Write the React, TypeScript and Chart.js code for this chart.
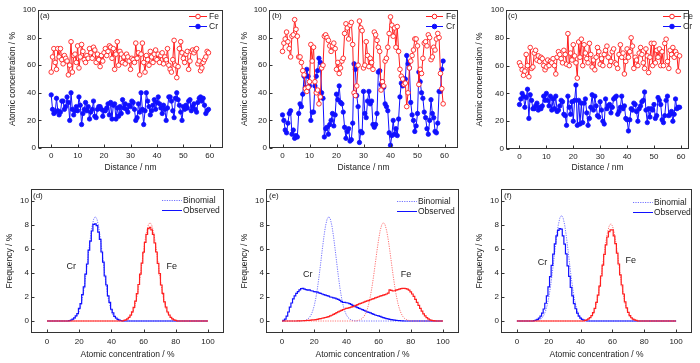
import React, { useEffect, useRef } from 'react';
import { Chart, registerables } from 'chart.js';
Chart.register(...registerables);

const FONT = '"Liberation Sans", Arial, sans-serif';
Chart.defaults.font.family = FONT;

// ---------- top row: line profiles ----------
const distance = [
  0, 0.5, 1, 1.5, 2, 2.5, 3, 3.5, 4, 4.5, 5, 5.5, 6, 6.5, 7, 7.5, 8, 8.5, 9, 9.5,
  10, 10.5, 11, 11.5, 12, 12.5, 13, 13.5, 14, 14.5, 15, 15.5, 16, 16.5, 17, 17.5, 18, 18.5, 19, 19.5,
  20, 20.5, 21, 21.5, 22, 22.5, 23, 23.5, 24, 24.5, 25, 25.5, 26, 26.5, 27, 27.5, 28, 28.5, 29, 29.5,
  30, 30.5, 31, 31.5, 32, 32.5, 33, 33.5, 34, 34.5, 35, 35.5, 36, 36.5, 37, 37.5, 38, 38.5, 39, 39.5,
  40, 40.5, 41, 41.5, 42, 42.5, 43, 43.5, 44, 44.5, 45, 45.5, 46, 46.5, 47, 47.5, 48, 48.5, 49, 49.5,
  50, 50.5, 51, 51.5, 52, 52.5, 53, 53.5, 54, 54.5, 55, 55.5, 56, 56.5, 57, 57.5, 58, 58.5, 59, 59.5,
];

const aFe = [
  55, 66, 72, 62, 57, 72, 66, 72, 64, 61, 67, 65, 63, 53, 60, 77, 55, 67, 68, 62,
  74, 58, 66, 75, 70, 64, 62, 67, 65, 72, 69, 65, 73, 71, 62, 68, 64, 59, 67, 63,
  69, 72, 67, 70, 74, 73, 65, 72, 57, 68, 77, 60, 70, 68, 62, 66, 61, 68, 66, 63,
  57, 65, 64, 62, 76, 65, 69, 53, 68, 76, 62, 55, 67, 64, 60, 70, 66, 62, 68, 71,
  64, 68, 62, 67, 69, 61, 66, 64, 72, 60, 57, 55, 64, 78, 60, 51, 59, 72, 77, 69,
  65, 62, 68, 70, 57, 63, 70, 71, 69, 71, 72, 61, 63, 56, 58, 62, 64, 66, 70, 69,
];
const aCr = [
  38.5, 28, 25, 26, 36, 27, 24, 26, 34, 34, 28, 30, 37, 33, 20, 40, 28, 24, 27, 30,
  27, 37, 31, 17, 25, 28, 33, 27, 30, 21, 26, 28, 34, 23, 22, 28, 30, 30, 28, 23,
  27, 27, 29, 32, 24, 33, 21, 31, 32, 21, 29, 23, 30, 25, 35, 29, 32, 28, 26, 31,
  30, 34, 33, 28, 20, 22, 32, 26, 40, 28, 17, 27, 40, 34, 30, 24, 27, 31, 35, 28,
  33, 37, 32, 29, 25, 31, 28, 20, 29, 37, 37, 34, 27, 22, 36, 40, 35, 31, 26, 20,
  30, 28, 31, 29, 34, 35, 27, 30, 32, 28, 26, 33, 36, 37, 34, 36, 31, 25, 27, 28,
];

const bFe = [
  70, 76, 79, 84, 77, 72, 66, 81, 82, 93, 86, 81, 66, 66, 62, 56, 53, 43, 41, 44,
  48, 75, 63, 73, 48, 40, 42, 32, 37, 58, 60, 81, 82, 80, 78, 74, 70, 74, 76, 72,
  57, 62, 54, 58, 63, 65, 83, 90, 87, 79, 89, 91, 75, 40, 38, 45, 60, 92, 87, 85,
  58, 60, 77, 67, 59, 65, 62, 57, 84, 82, 78, 73, 70, 42, 48, 45, 63, 65, 73, 83,
  95, 89, 81, 87, 73, 88, 70, 57, 52, 50, 46, 47, 30, 40, 58, 63, 67, 71, 79, 79,
  74, 46, 57, 54, 65, 76, 77, 74, 82, 80, 64, 66, 73, 71, 79, 83, 80, 54, 43, 32,
];
const bCr = [
  24, 20, 13, 11, 18, 25, 27, 10, 13, 7, 9, 8, 25, 32, 30, 39, 52, 44, 57, 52,
  45, 20, 26, 26, 45, 52, 56, 65, 62, 40, 36, 8, 14, 15, 10, 17, 20, 25, 16, 24,
  39, 35, 45, 33, 32, 26, 15, 7, 12, 14, 5, 6, 18, 61, 57, 38, 30, 4, 12, 11,
  41, 25, 22, 34, 41, 32, 34, 17, 15, 17, 25, 55, 56, 46, 48, 44, 32, 30, 27, 11,
  2, 9, 20, 10, 14, 9, 21, 37, 47, 45, 50, 50, 67, 61, 58, 33, 24, 20, 12, 16,
  25, 55, 48, 40, 36, 26, 22, 14, 10, 20, 35, 25, 22, 12, 11, 18, 41, 41, 57, 63,
];

const cFe = [
  62, 60, 57, 53, 56, 68, 60, 52, 73, 58, 59, 69, 71, 64, 67, 63, 66, 65, 60, 57,
  59, 64, 60, 63, 62, 65, 60, 54, 66, 70, 68, 65, 62, 71, 68, 61, 83, 60, 69, 64,
  75, 67, 62, 51, 77, 66, 79, 60, 75, 69, 65, 62, 76, 68, 59, 64, 57, 66, 73, 70,
  61, 65, 60, 68, 71, 74, 66, 60, 63, 70, 72, 62, 61, 58, 68, 75, 66, 69, 54, 63,
  72, 66, 70, 80, 74, 58, 66, 64, 60, 69, 73, 68, 62, 58, 72, 67, 55, 66, 76, 60,
  76, 62, 71, 66, 72, 60, 70, 60, 76, 79, 63, 58, 71, 68, 73, 66, 70, 68, 56, 67,
];
const cCr = [
  32, 36, 40, 38, 30, 37, 43, 22, 39, 35, 29, 29, 31, 33, 28, 30, 29, 31, 38, 35,
  40, 35, 31, 38, 28, 36, 29, 38, 27, 28, 31, 35, 34, 25, 24, 17, 38, 30, 25, 34,
  20, 35, 46, 17, 35, 18, 33, 19, 33, 36, 26, 17, 22, 30, 39, 28, 38, 31, 24, 23,
  34, 28, 20, 18, 36, 29, 31, 32, 26, 30, 36, 37, 38, 25, 27, 30, 38, 29, 31, 22,
  21, 13, 21, 29, 28, 33, 32, 27, 20, 29, 31, 34, 35, 41, 28, 19, 29, 23, 29, 28,
  32, 22, 24, 37, 35, 32, 21, 19, 24, 35, 38, 24, 25, 27, 20, 25, 36, 29, 30, 30,
];

const concentrationTicks = [0, 20, 40, 60, 80, 100];
const distanceTicks = [0, 10, 20, 30, 40, 50, 60];

// ---------- bottom row: frequency distributions (1 % bins) ----------
const binFirst = 0;
const binLast = 100;
const frequencyTicks = [0, 2, 4, 6, 8, 10];
const binTicks = [0, 20, 40, 60, 80, 100];

const dCrBinStart = 14;
const dCrBin = [0.02, 0.04, 0.09, 0.16, 0.29, 0.5, 0.82, 1.28, 1.92, 2.73, 3.72, 4.82, 5.96, 7.03, 7.92, 8.5, 8.7, 8.5, 7.92, 7.03, 5.96, 4.82, 3.72, 2.73, 1.92, 1.28, 0.82, 0.5, 0.29, 0.16, 0.09, 0.04, 0.02];
const dCrObsStart = 14;
const dCrObs = [0.03, 0.07, 0.15, 0.26, 0.42, 0.62, 1.05, 1.45, 2.2, 2.85, 3.9, 4.75, 5.9, 6.65, 7.5, 8.05, 8.1, 7.95, 7.4, 6.8, 5.75, 4.9, 3.75, 3.0, 2.1, 1.55, 0.98, 0.68, 0.38, 0.25, 0.13, 0.08, 0.04];
const dFeBinStart = 48;
const dFeBin = [0.04, 0.07, 0.13, 0.23, 0.39, 0.64, 0.99, 1.48, 2.13, 2.92, 3.84, 4.84, 5.85, 6.78, 7.54, 8.03, 8.2, 8.03, 7.54, 6.78, 5.85, 4.84, 3.84, 2.92, 2.13, 1.48, 0.99, 0.64, 0.39, 0.23, 0.13, 0.07, 0.04];
const dFeObsStart = 48;
const dFeObs = [0.06, 0.1, 0.18, 0.3, 0.49, 0.76, 1.14, 1.65, 2.28, 3.04, 3.9, 4.82, 5.73, 6.56, 7.22, 7.7, 7.8, 7.6, 7.22, 6.5, 5.75, 4.8, 3.95, 3.0, 2.3, 1.6, 1.15, 0.75, 0.5, 0.3, 0.17, 0.1, 0.05];

const eCrBinStart = 13;
const eCrBin = [0.02, 0.04, 0.09, 0.16, 0.29, 0.5, 0.82, 1.28, 1.92, 2.73, 3.72, 4.82, 5.96, 7.03, 7.92, 8.5, 8.7, 8.5, 7.92, 7.03, 5.96, 4.82, 3.72, 2.73, 1.92, 1.28, 0.82, 0.5, 0.29, 0.16, 0.09, 0.04, 0.02];
const eCrObsStart = 0;
const eCrObs = [
  0, 0.05, 0.15, 0.4, 0.75, 1.15, 1.5, 1.85, 2.1, 2.3,
  2.45, 2.6, 2.7, 2.72, 2.65, 2.62, 2.58, 2.6, 2.52, 2.5,
  2.45, 2.42, 2.4, 2.35, 2.3, 2.25, 2.2, 2.15, 2.12, 2.08,
  2.0, 1.98, 1.92, 1.9, 1.85, 1.8, 1.72, 1.62, 1.55, 1.55,
  1.52, 1.5, 1.45, 1.38, 1.3, 1.25, 1.18, 1.12, 1.05, 1.0,
  0.95, 0.88, 0.82, 0.76, 0.72, 0.68, 0.62, 0.56, 0.5, 0.46,
  0.42, 0.38, 0.33, 0.28, 0.24, 0.2, 0.17, 0.14, 0.11, 0.09,
  0.07, 0.05, 0.04, 0.03, 0.02, 0.01,
];
const eFeBinStart = 47;
const eFeBin = [0.04, 0.07, 0.13, 0.23, 0.39, 0.64, 0.99, 1.48, 2.13, 2.92, 3.84, 4.84, 5.85, 6.78, 7.54, 8.03, 8.2, 8.03, 7.54, 6.78, 5.85, 4.84, 3.84, 2.92, 2.13, 1.48, 0.99, 0.64, 0.39, 0.23, 0.13, 0.07, 0.04];
const eFeObsStart = 10;
const eFeObs = [
  0.01, 0.01, 0.02, 0.02, 0.03, 0.04, 0.05, 0.06, 0.08, 0.09,
  0.1, 0.12, 0.14, 0.17, 0.2, 0.23, 0.26, 0.29, 0.33, 0.37,
  0.42, 0.48, 0.55, 0.62, 0.7, 0.76, 0.82, 0.88, 0.94, 1.0,
  1.05, 1.08, 1.12, 1.15, 1.2, 1.25, 1.3, 1.36, 1.42, 1.47,
  1.52, 1.58, 1.63, 1.68, 1.72, 1.77, 1.82, 1.87, 1.92, 1.97,
  2.02, 2.07, 2.12, 2.16, 2.2, 2.25, 2.32, 2.6, 2.55, 2.5,
  2.52, 2.58, 2.62, 2.66, 2.7, 2.72, 2.72, 2.7, 2.66, 2.58,
  2.42, 2.25, 2.05, 1.8, 1.55, 1.3, 1.05, 0.82, 0.6, 0.42,
  0.28, 0.17, 0.1, 0.05, 0.03, 0.01, 0,
];

const fCrBinStart = 12;
const fCrBin = [0.02, 0.04, 0.09, 0.16, 0.29, 0.5, 0.83, 1.3, 1.94, 2.76, 3.76, 4.87, 6.03, 7.11, 8.01, 8.6, 8.8, 8.6, 8.01, 7.11, 6.03, 4.87, 3.76, 2.76, 1.94, 1.3, 0.83, 0.5, 0.29, 0.16, 0.09, 0.04, 0.02];
const fCrObsStart = 11;
const fCrObs = [0.04, 0.07, 0.14, 0.24, 0.4, 0.65, 1.0, 1.48, 2.1, 2.84, 3.7, 4.63, 5.57, 6.42, 7.1, 7.55, 7.7, 7.65, 7.1, 6.4, 5.6, 4.6, 3.72, 2.8, 2.1, 1.45, 1.02, 0.66, 0.4, 0.24, 0.14, 0.07, 0.04];
const fFeBinStart = 43;
const fFeBin = [0.04, 0.07, 0.13, 0.23, 0.39, 0.63, 0.98, 1.46, 2.1, 2.88, 3.8, 4.78, 5.78, 6.7, 7.45, 7.93, 8.1, 7.93, 7.45, 6.7, 5.78, 4.78, 3.8, 2.88, 2.1, 1.46, 0.98, 0.63, 0.39, 0.23, 0.13, 0.07, 0.04];
const fFeObsStart = 43;
const fFeObs = [0.06, 0.1, 0.17, 0.28, 0.45, 0.7, 1.06, 1.55, 2.15, 2.9, 3.75, 4.65, 5.55, 6.35, 7.0, 7.45, 7.6, 7.6, 7.1, 6.45, 5.65, 4.75, 3.85, 3.0, 2.25, 1.6, 1.1, 0.72, 0.45, 0.27, 0.16, 0.09, 0.05];

// ---------- helpers ----------
const RED = '#ff1f1f';
const BLUE = '#1010ff';
const RED_LIGHT = 'rgba(255,90,90,0.85)';
const BLUE_LIGHT = 'rgba(90,90,255,0.85)';
const TEXT = '#222';

function toBins(start: number, vals: number[]) {
  const out: { x: number; y: number }[] = [];
  for (let x = binFirst; x <= binLast; x++) {
    const i = x - start;
    out.push({ x, y: i >= 0 && i < vals.length ? vals[i] : 0 });
  }
  return out;
}
function toProfile(vals: number[]) {
  return distance.map((x, i) => ({ x, y: vals[i] }));
}

type Box = { x: number; y: number; w: number; h: number; yw: number; xh: number; pt: number; pr: number; ytp: number; xtb: number; xtp: number };

type LegendItem = { text: string; color: string; dash: number[]; marker: '' | 'open' | 'filled' };
type Decor = {
  label: string; labelDx: number; labelDy: number;
  legend: LegendItem[]; legX1: number; legX2: number; legText: number; legY: number[];
  notes: { text: string; x: number; y: number }[];
};

const decorPlugin = {
  id: 'decor',
  afterDraw(chart: any, _args: any, o: Decor) {
    const { ctx, chartArea: a, scales } = chart;
    const xs = scales.x, ys = scales.y;
    ctx.save();
    ctx.strokeStyle = '#333';
    ctx.lineWidth = 1;
    const L = Math.round(a.left) + 0.5, T = Math.round(a.top) + 0.5;
    const R = Math.round(a.right) - 0.5, B = Math.round(a.bottom) - 0.5;
    ctx.strokeRect(L, T, R - L, B - T);
    ctx.beginPath();
    for (const t of xs.ticks) {
      const px = Math.round(xs.getPixelForValue(t.value)) + 0.5;
      ctx.moveTo(px, B); ctx.lineTo(px, B - 3);
    }
    for (const t of ys.ticks) {
      const py = Math.round(ys.getPixelForValue(t.value)) + 0.5;
      ctx.moveTo(L, py); ctx.lineTo(L + 3, py);
    }
    ctx.stroke();

    ctx.fillStyle = TEXT;
    ctx.textBaseline = 'middle';
    ctx.textAlign = 'left';
    ctx.font = `8px ${FONT}`;
    ctx.fillText(o.label, a.left + o.labelDx, a.top + o.labelDy);

    o.legend.forEach((it, i) => {
      const y = Math.round(a.top + o.legY[i]) + 0.5;
      const x1 = a.right + o.legX1, x2 = a.right + o.legX2;
      ctx.strokeStyle = it.color;
      ctx.lineWidth = 1;
      ctx.setLineDash(it.dash);
      ctx.beginPath(); ctx.moveTo(x1, y); ctx.lineTo(x2, y); ctx.stroke();
      ctx.setLineDash([]);
      if (it.marker) {
        ctx.beginPath();
        ctx.arc((x1 + x2) / 2, y, 2.3, 0, Math.PI * 2);
        ctx.fillStyle = it.marker === 'open' ? '#fff' : it.color;
        ctx.fill(); ctx.stroke();
      }
      ctx.fillStyle = TEXT;
      ctx.font = `8.5px ${FONT}`;
      ctx.fillText(it.text, a.right + o.legText, y);
    });

    ctx.textAlign = 'center';
    ctx.font = `9px ${FONT}`;
    for (const n of o.notes) ctx.fillText(n.text, xs.getPixelForValue(n.x), ys.getPixelForValue(n.y));
    ctx.restore();
  },
};

function axis(min: number, max: number, ticks: number[], title: string, horizontal: boolean, box: Box) {
  return {
    type: 'linear', min, max,
    afterBuildTicks: (s: any) => { s.ticks = ticks.map((v) => ({ value: v })); },
    afterFit: (s: any) => { if (horizontal) s.height = box.xh; else s.width = box.yw; },
    grid: { display: false, drawTicks: false },
    border: { display: false },
    ticks: { font: { size: 8, family: FONT }, color: TEXT, padding: horizontal ? box.xtp : 2, maxRotation: 0, autoSkip: false },
    title: {
      display: true, text: title, color: TEXT, font: { size: 8.5, family: FONT },
      padding: horizontal ? { top: 0, bottom: box.xtb } : { top: box.ytp, bottom: 0 },
    },
  };
}

function topConfig(fe: number[], cr: number[], box: Box, decor: Decor, xmax: number) {
  return {
    type: 'line',
    data: {
      datasets: [
        { label: 'Fe', data: toProfile(fe), borderColor: RED, borderWidth: 1, pointRadius: 2.3, pointBorderWidth: 0.9, pointBackgroundColor: '#fff', pointBorderColor: RED, tension: 0 },
        { label: 'Cr', data: toProfile(cr), borderColor: BLUE, borderWidth: 1, pointRadius: 2.2, pointBorderWidth: 0.8, pointBackgroundColor: BLUE, pointBorderColor: BLUE, tension: 0 },
      ],
    },
    options: {
      animation: false, responsive: false, devicePixelRatio: 1,
      layout: { padding: { top: box.pt, right: box.pr, left: 0, bottom: 0 } },
      plugins: { legend: { display: false }, tooltip: { enabled: false }, decor },
      scales: {
        x: axis(-5, xmax, distanceTicks, 'Distance / nm', true, box),
        y: axis(0, 100, concentrationTicks, 'Atomic concentration / %', false, box),
      },
    },
    plugins: [decorPlugin],
  };
}

function bottomConfig(s: { crBin: any; crObs: any; feBin: any; feObs: any }, box: Box, decor: Decor) {
  const dotted = [1.2, 1.2];
  return {
    type: 'line',
    data: {
      datasets: [
        { label: 'Fe observed', data: s.feObs, borderColor: RED, borderWidth: 1.2, pointRadius: 0, stepped: 'middle' },
        { label: 'Fe binomial', data: s.feBin, borderColor: RED_LIGHT, borderWidth: 1, borderDash: dotted, pointRadius: 0, tension: 0 },
        { label: 'Cr observed', data: s.crObs, borderColor: BLUE, borderWidth: 1.2, pointRadius: 0, stepped: 'middle' },
        { label: 'Cr binomial', data: s.crBin, borderColor: BLUE_LIGHT, borderWidth: 1, borderDash: dotted, pointRadius: 0, tension: 0 },
      ],
    },
    options: {
      animation: false, responsive: false, devicePixelRatio: 1,
      layout: { padding: { top: box.pt, right: box.pr, left: 0, bottom: 0 } },
      plugins: { legend: { display: false }, tooltip: { enabled: false }, decor },
      scales: {
        x: axis(-10, 110, binTicks, 'Atomic concentration / %', true, box),
        y: axis(-1, 11, frequencyTicks, 'Frequency / %', false, box),
      },
    },
    plugins: [decorPlugin],
  };
}

const topLegend: LegendItem[] = [
  { text: 'Fe', color: RED, dash: [], marker: 'open' },
  { text: 'Cr', color: BLUE, dash: [], marker: 'filled' },
];
const botLegend: LegendItem[] = [
  { text: 'Binomial', color: BLUE_LIGHT, dash: [1.2, 1.2], marker: '' },
  { text: 'Observed', color: BLUE, dash: [], marker: '' },
];

const boxes: Record<string, Box> = {
  a: { x: 0, y: 0, w: 230, h: 178, yw: 38, xh: 30, pt: 10, pr: 7, ytp: 8, xtb: 5, xtp: 3 },
  b: { x: 232, y: 0, w: 234, h: 178, yw: 37, xh: 30, pt: 10, pr: 8, ytp: 8, xtb: 5, xtp: 3 },
  c: { x: 467, y: 0, w: 233, h: 178, yw: 39, xh: 29, pt: 10, pr: 11, ytp: 8, xtb: 5, xtp: 3 },
  d: { x: 0, y: 180, w: 230, h: 183, yw: 31, xh: 30, pt: 9, pr: 6, ytp: 5, xtb: 3, xtp: 4 },
  e: { x: 232, y: 180, w: 234, h: 183, yw: 34, xh: 30, pt: 9, pr: 7, ytp: 8, xtb: 3, xtp: 4 },
  f: { x: 467, y: 180, w: 233, h: 183, yw: 34, xh: 30, pt: 9, pr: 8, ytp: 8, xtb: 3, xtp: 4 },
};

const panels = [
  { key: 'a', make: () => topConfig(aFe, aCr, boxes.a, { label: '(a)', labelDx: 2, labelDy: 6, legend: topLegend, legX1: -34, legX2: -16, legText: -14, legY: [6, 16], notes: [] }, 65) },
  { key: 'b', make: () => topConfig(bFe, bCr, boxes.b, { label: '(b)', labelDx: 3, labelDy: 6, legend: topLegend, legX1: -32, legX2: -15, legText: -12, legY: [6, 16], notes: [] }, 65) },
  { key: 'c', make: () => topConfig(cFe, cCr, boxes.c, { label: '(c)', labelDx: 2, labelDy: 6, legend: topLegend, legX1: -26, legX2: -8, legText: -6, legY: [6, 16], notes: [] }, 63) },
  { key: 'd', make: () => bottomConfig({ crBin: toBins(dCrBinStart, dCrBin), crObs: toBins(dCrObsStart, dCrObs), feBin: toBins(dFeBinStart, dFeBin), feObs: toBins(dFeObsStart, dFeObs) }, boxes.d, { label: '(d)', labelDx: 2, labelDy: 7, legend: botLegend, legX1: -62, legX2: -42, legText: -41, legY: [11, 21], notes: [{ text: 'Cr', x: 15, y: 4.5 }, { text: 'Fe', x: 77.5, y: 4.5 }] }) },
  { key: 'e', make: () => bottomConfig({ crBin: toBins(eCrBinStart, eCrBin), crObs: toBins(eCrObsStart, eCrObs), feBin: toBins(eFeBinStart, eFeBin), feObs: toBins(eFeObsStart, eFeObs) }, boxes.e, { label: '(e)', labelDx: 3, labelDy: 7, legend: botLegend, legX1: -62, legX2: -42, legText: -41, legY: [12, 22], notes: [{ text: 'Cr', x: 16, y: 3.9 }, { text: 'Fe', x: 77, y: 3.9 }] }) },
  { key: 'f', make: () => bottomConfig({ crBin: toBins(fCrBinStart, fCrBin), crObs: toBins(fCrObsStart, fCrObs), feBin: toBins(fFeBinStart, fFeBin), feObs: toBins(fFeObsStart, fFeObs) }, boxes.f, { label: '(f)', labelDx: 3, labelDy: 7, legend: botLegend, legX1: -59, legX2: -39, legText: -38, legY: [13, 23], notes: [{ text: 'Cr', x: 16, y: 4.9 }, { text: 'Fe', x: 71.5, y: 5.0 }] }) },
];

function Panel({ box, make }: { box: Box; make: () => any }) {
  const ref = useRef<HTMLCanvasElement>(null);
  useEffect(() => {
    const chart = new Chart(ref.current as HTMLCanvasElement, make());
    return () => chart.destroy();
  }, []);
  return (
    <div style={{ position: 'absolute', left: box.x, top: box.y, width: box.w, height: box.h }}>
      <canvas ref={ref} width={box.w} height={box.h} style={{ width: box.w, height: box.h, display: 'block' }} />
    </div>
  );
}

export default function App() {
  return (
    <div style={{ position: 'fixed', left: 0, top: 0, width: 700, height: 363, background: '#fff', overflow: 'hidden' }}>
      {panels.map((p) => (
        <Panel key={p.key} box={boxes[p.key]} make={p.make} />
      ))}
    </div>
  );
}
